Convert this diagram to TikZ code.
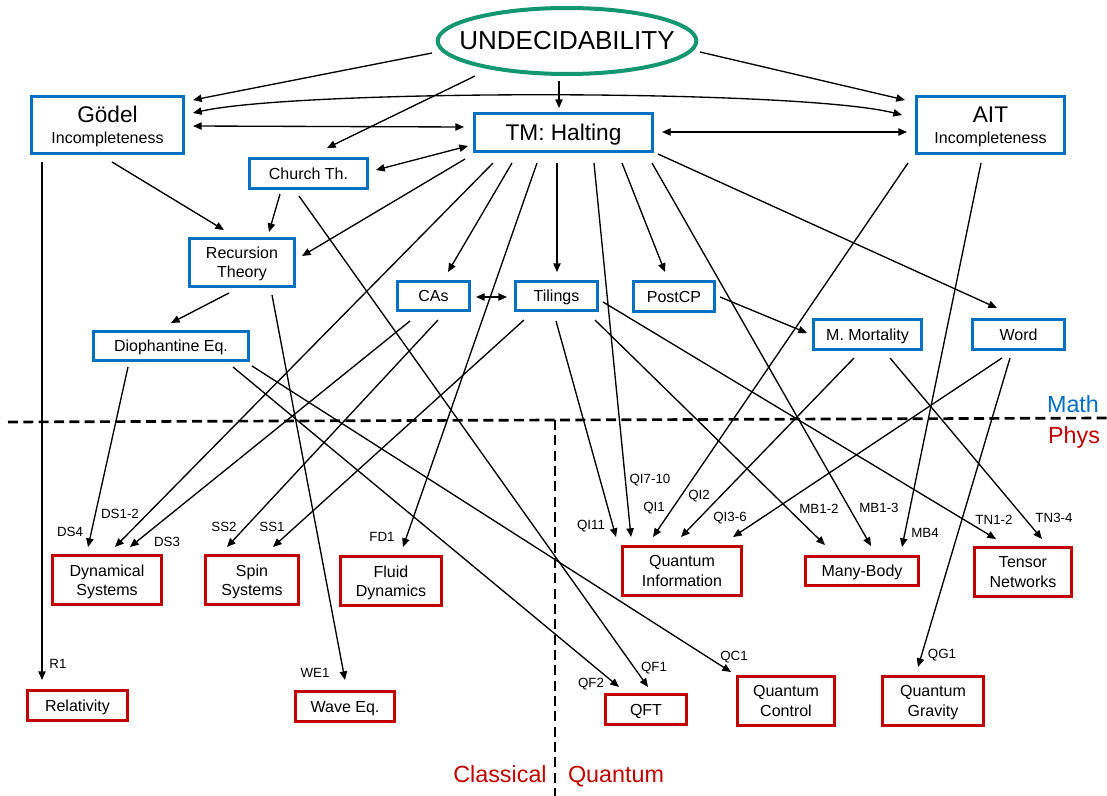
\documentclass[tikz,border=0pt]{standalone}
\usepackage{fontspec}
\setmainfont{Liberation Sans}
\usetikzlibrary{arrows.meta,shapes.geometric,calc}

\definecolor{mathblue}{HTML}{0070C0}
\definecolor{physred}{HTML}{C00000}
\definecolor{undgreen}{RGB}{18,151,112}

\tikzset{
	mathbox/.style={draw=mathblue, line width=2.6pt, inner sep=0pt, text depth=0pt, align=center, font=\fontsize{12}{14.4}\selectfont},
	physbox/.style={draw=physred, line width=2.6pt, inner sep=0pt, text depth=0pt, align=center, font=\fontsize{12}{14.4}\selectfont},
	link/.style={line width=1pt, -{Triangle[length=6.5pt,width=5.5pt]}},
	twoway/.style={{Triangle[length=6.5pt,width=5.5pt]}-{Triangle[length=6.5pt,width=5.5pt]}},
	edgelab/.style={inner sep=0pt, font=\fontsize{10}{12}\selectfont},
	zonelab/.style={inner sep=0pt, anchor=base, font=\fontsize{17.5}{20}\selectfont},
	divider/.style={line width=2pt, dash pattern=on 7.5pt off 4pt}
}

\newcommand{\conn}[5][]{
	\draw[link,#1] ($(#2)+(#3)$) -- ($(#4)+(#5)$);
}

\begin{document}
\begin{tikzpicture}[x=0.75pt, y=-0.75pt]
	\useasboundingbox (0,0) rectangle (1107,796);

	\node[ellipse, draw=undgreen, line width=3pt, inner xsep=-14pt, inner ysep=0pt, minimum width=194pt, minimum height=49.5pt, font=\fontsize{19.5}{22}\selectfont] (und) at (567,41) {UNDECIDABILITY};

	\node[mathbox, minimum width=114pt, minimum height=42.75pt, font=\fontsize{12}{16}\selectfont] (god) at (107.5,125) {{\fontsize{17}{16}\selectfont Gödel}\\Incompleteness};
	\node[mathbox, minimum width=133.5pt, minimum height=28.5pt, font=\fontsize{17}{20}\selectfont] (tm) at (563.5,132.5) {TM: Halting};
	\node[mathbox, minimum width=111pt, minimum height=42.75pt, font=\fontsize{12}{16}\selectfont] (ait) at (990.5,125) {{\fontsize{17}{16}\selectfont AIT}\\Incompleteness};
	\node[mathbox, minimum width=88.5pt, minimum height=22.5pt] (church) at (308.5,173.5) {Church Th.};
	\node[mathbox, minimum width=78.75pt, minimum height=36pt] (rec) at (242,262.5) {Recursion\\Theory};
	\node[mathbox, minimum width=54pt, minimum height=21.75pt] (cas) at (433.5,296) {CAs};
	\node[mathbox, minimum width=61.5pt, minimum height=21.75pt] (til) at (556.5,296) {Tilings};
	\node[mathbox, minimum width=60.75pt, minimum height=22.5pt] (pcp) at (674,296.5) {PostCP};
	\node[mathbox, minimum width=81pt, minimum height=22.5pt] (mm) at (867.5,334.5) {M. Mortality};
	\node[mathbox, minimum width=69pt, minimum height=22.5pt] (word) at (1018.5,334.5) {Word};
	\node[mathbox, minimum width=116.25pt, minimum height=21.75pt] (dio) at (171,346) {Diophantine Eq.};

	\node[physbox, minimum width=81.75pt, minimum height=36.75pt] (ds) at (107,580) {Dynamical\\Systems};
	\node[physbox, minimum width=69.75pt, minimum height=36.75pt] (ss) at (252,580) {Spin\\Systems};
	\node[physbox, minimum width=75.75pt, minimum height=36.75pt] (fd) at (391,581) {Fluid\\Dynamics};
	\node[physbox, minimum width=89.25pt, minimum height=36.75pt] (qi) at (682,571) {Quantum\\Information};
	\node[physbox, minimum width=84.75pt, minimum height=21.75pt] (mb) at (862,571) {Many-Body};
	\node[physbox, minimum width=72.75pt, minimum height=36.75pt] (tn) at (1023,572) {Tensor\\Networks};
	\node[physbox, minimum width=75pt, minimum height=22.5pt] (rel) at (77.5,705.5) {Relativity};
	\node[physbox, minimum width=74.25pt, minimum height=22.5pt] (we) at (345,706.5) {Wave Eq.};
	\node[physbox, minimum width=60.75pt, minimum height=22.5pt] (qft) at (646,709.5) {QFT};
	\node[physbox, minimum width=72.75pt, minimum height=36.75pt] (qc) at (786,701) {Quantum\\Control};
	\node[physbox, minimum width=75.75pt, minimum height=36.75pt] (qg) at (933,701) {Quantum\\Gravity};

	\draw[divider] (8,422) -- (1107,418);
	\draw[divider] (555,420) -- (555,796);

	\node[zonelab, text=mathblue] (math) at (1073,412) {Math};
	\node[zonelab, text=physred] (phys) at (1074,443) {Phys};
	\node[zonelab, text=physred] (classical) at (500,782) {Classical};
	\node[zonelab, text=physred] (quantum) at (616,782) {Quantum};

	\conn{und}{-135,12}{god}{85.5,-25}
	\conn{und}{-92,35}{church}{18.5,-25.5}
	\conn{und}{-8,40}{tm}{-4.5,-24.5}
	\conn{und}{133,11}{ait}{-85.5,-25}
	\draw[link,twoway] ($(god)+(85.5,-12)$) .. controls +(107,-24) and +(-102,-26) .. ($(ait)+(-88.5,-10)$);
	\conn[twoway]{god}{85.5,1}{tm}{-99.5,-5.5}
	\conn[twoway]{tm}{98.5,-0.5}{ait}{-83.5,7}
	\conn[twoway]{church}{67.5,-3.5}{tm}{-95.5,13.5}
	\conn[twoway]{cas}{42.5,1}{til}{-49.5,1}

	\conn{god}{4.5,37}{rec}{-18,-32.5}
	\conn{church}{-28.5,20.5}{rec}{27,-30.5}
	\conn{tm}{-98.5,26.5}{rec}{60,-6.5}
	\conn{church}{-9.5,22.5}{qft}{2,-22.5}
	\conn{god}{-65.5,37}{rel}{-35.5,-25.5}
	\conn{rec}{-13,30.5}{dio}{0,-23}
	\conn{rec}{30,32.5}{we}{0,-26.5}

	\conn{tm}{-51.5,30.5}{cas}{14.5,-24}
	\conn{tm}{-6.5,30.5}{til}{0.5,-24}
	\conn{tm}{58.5,30.5}{pcp}{-9,-24.5}
	\conn{tm}{94.5,21.5}{word}{-21.5,-26.5}
	\conn{tm}{-70.5,30.5}{ds}{8,-33}
	\conn{tm}{-26.5,30.5}{fd}{12,-34}
	\conn{tm}{30.5,30.5}{qi}{-51,-34}
	\conn{tm}{88.5,30.5}{mb}{9,-25}

	\conn{ait}{-82.5,38}{qi}{-29,-34}
	\conn{ait}{-9.5,38}{mb}{40,-24}

	\conn{til}{-0.5,25}{qi}{-66,-34}
	\conn{til}{38.5,24}{mb}{-37,-26}
	\conn{til}{46.5,6}{tn}{-27,-33}
	\conn{til}{-32.5,24}{ss}{21,-33}
	\conn{cas}{-23.5,25}{ds}{23,-33}
	\conn{cas}{4.5,24}{ss}{-25,-33}

	\conn{dio}{-43,21}{ds}{-19,-33}
	\conn{dio}{62,21}{qft}{-27,-22.5}
	\conn{dio}{81,20}{qc}{-55,-29}

	\conn{pcp}{46,0.5}{mm}{-60.5,-1.5}
	\conn{mm}{-13.5,23.5}{qi}{-1,-34}
	\conn{mm}{22.5,23.5}{tn}{19,-33}
	\conn{word}{-16.5,23.5}{qi}{51,-34}
	\conn{word}{-8.5,23.5}{qg}{-15,-34}

	\node[edgelab] (lR1) at (58,664) {R1};
	\node[edgelab] (lWE1) at (315,673) {WE1};
	\node[edgelab] (lDS4) at (70,532) {DS4};
	\node[edgelab] (lDS12) at (120,514) {DS1-2};
	\node[edgelab] (lDS3) at (167,542) {DS3};
	\node[edgelab] (lSS2) at (224,527) {SS2};
	\node[edgelab] (lSS1) at (272,527) {SS1};
	\node[edgelab] (lFD1) at (382,537) {FD1};
	\node[edgelab] (lQI11) at (591,526) {QI11};
	\node[edgelab] (lQI710) at (650,480) {QI7-10};
	\node[edgelab] (lQI1) at (654,508) {QI1};
	\node[edgelab] (lQI2) at (699,496) {QI2};
	\node[edgelab] (lQI36) at (730,518) {QI3-6};
	\node[edgelab] (lMB12) at (819,509) {MB1-2};
	\node[edgelab] (lMB13) at (879,508) {MB1-3};
	\node[edgelab] (lMB4) at (925,533) {MB4};
	\node[edgelab] (lTN12) at (994,520) {TN1-2};
	\node[edgelab] (lTN34) at (1054,518) {TN3-4};
	\node[edgelab] (lQF1) at (654,668) {QF1};
	\node[edgelab] (lQF2) at (591,684) {QF2};
	\node[edgelab] (lQC1) at (734,657) {QC1};
	\node[edgelab] (lQG1) at (942,655) {QG1};
\end{tikzpicture}
\end{document}
